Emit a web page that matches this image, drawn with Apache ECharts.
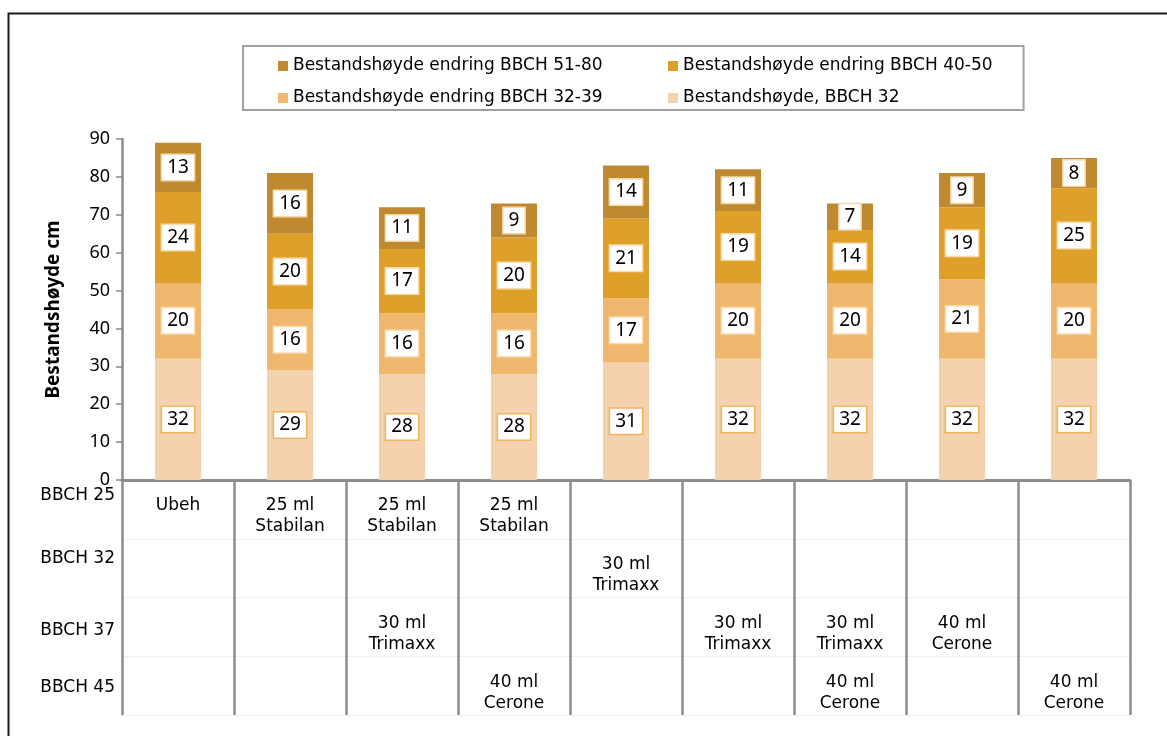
<!DOCTYPE html>
<html>
<head>
<meta charset="utf-8">
<script src="https://cdn.jsdelivr.net/npm/echarts@6/dist/echarts.min.js"></script>
<style>
  html, body { margin: 0; padding: 0; background: #fff; }
  #chart { width: 1167px; height: 736px; }
</style>
</head>
<body>
<div id="chart"></div>
<script>
// behandlinger (ledd)
const categories = ['1', '2', '3', '4', '5', '6', '7', '8', '9']
// bestandshøyde, cm
const base = [32, 29, 28, 28, 31, 32, 32, 32, 32]
const change3239 = [20, 16, 16, 16, 17, 20, 20, 21, 20]
const change4050 = [24, 20, 17, 20, 21, 19, 14, 19, 25]
const change5180 = [13, 16, 11, 9, 14, 11, 7, 9, 8]
const yTicks = [0, 90, 10]
// tabell under diagrammet
const stages = ['BBCH 25', 'BBCH 32', 'BBCH 37', 'BBCH 45']
const treatments = [
  ['Ubeh', '', '', ''],
  ['25 ml\nStabilan', '', '', ''],
  ['25 ml\nStabilan', '', '30 ml\nTrimaxx', ''],
  ['25 ml\nStabilan', '', '', '40 ml\nCerone'],
  ['', '30 ml\nTrimaxx', '', ''],
  ['', '', '30 ml\nTrimaxx', ''],
  ['', '', '30 ml\nTrimaxx', '40 ml\nCerone'],
  ['', '', '40 ml\nCerone', ''],
  ['', '', '', '40 ml\nCerone']
]
const names = [
  'Bestandshøyde endring BBCH 51-80',
  'Bestandshøyde endring BBCH 40-50',
  'Bestandshøyde endring BBCH 32-39',
  'Bestandshøyde, BBCH 32'
]

const chart = echarts.init(document.getElementById('chart'))
const gray = '#8c8c8c'
const numFont = 'Noto Sans'
const txtFont = 'DejaVu Sans'

const tableCells = []
treatments.forEach((col, c) => {
  col.forEach((txt, r) => {
    if (txt) tableCells.push([c, r, txt])
  })
})

function barSeries (name, data, color, border) {
  return {
    name: name,
    type: 'bar',
    stack: 'total',
    barWidth: 46,
    xAxisIndex: 0,
    yAxisIndex: 0,
    itemStyle: { color: color },
    label: {
      show: true,
      position: 'inside',
      color: '#000',
      fontFamily: numFont,
      fontSize: 19,
      backgroundColor: '#fff',
      borderColor: border,
      borderWidth: 1.5,
      padding: [4, 5, 2, 5]
    },
    data: data
  }
}

const labelShift = [[0, 0, 28, 0], [0, 0, 20, 0], [8, 0, 0, 0], [4, 0, 0, 0]]
const rich = {}
labelShift.forEach((p, i) => {
  rich['s' + i] = { padding: p, fontFamily: txtFont, fontSize: 17, color: '#000' }
})

const options = {
  animation: false,
  backgroundColor: '#fff',
  graphic: [{
    type: 'rect',
    left: 6,
    top: 11,
    shape: { width: 1200, height: 800 },
    style: { fill: 'none', stroke: '#1a1a1a', lineWidth: 2 },
    silent: true
  }],
  legend: {
    left: 243,
    top: 46,
    width: 740,
    padding: [11, 31, 3, 35],
    borderColor: '#a0a0a0',
    borderWidth: 2,
    itemGap: 14,
    itemWidth: 10,
    itemHeight: 10,
    icon: 'rect',
    textStyle: { fontFamily: txtFont, fontSize: 17, color: '#000', lineHeight: 18 },
    data: [
      { name: names[0], textStyle: { width: 361 } },
      { name: names[1] },
      { name: names[2], textStyle: { width: 361 } },
      { name: names[3] }
    ]
  },
  grid: [
    { left: 122, right: 37, top: 139, bottom: 256 },
    { left: 122, right: 37, top: 480, bottom: 21 }
  ],
  xAxis: [{
    type: 'category',
    gridIndex: 0,
    data: categories,
    axisLine: { lineStyle: { color: gray, width: 3 } },
    axisTick: { show: false },
    axisLabel: { show: false }
  }, {
    type: 'category',
    gridIndex: 1,
    data: categories,
    axisLine: { show: false },
    axisTick: { show: false },
    axisLabel: { show: false },
    splitLine: { show: true, lineStyle: { color: gray, width: 2.5 } }
  }],
  yAxis: [{
    type: 'value',
    gridIndex: 0,
    min: yTicks[0],
    max: yTicks[1],
    interval: yTicks[2],
    name: 'Bestandshøyde cm',
    nameLocation: 'middle',
    nameGap: 59,
    nameTextStyle: { fontFamily: numFont, fontSize: 19, fontWeight: 'bold', color: '#000' },
    axisLine: { show: true, lineStyle: { color: gray, width: 2.5 } },
    axisTick: { show: true, length: 6, lineStyle: { color: gray, width: 1.5 } },
    axisLabel: { fontFamily: numFont, fontSize: 18, color: '#000', margin: 12 },
    splitLine: { show: false }
  }, {
    type: 'category',
    gridIndex: 1,
    inverse: true,
    data: stages,
    axisLine: { show: false },
    axisTick: { show: false },
    axisLabel: {
      margin: 7,
      fontFamily: txtFont,
      fontSize: 17,
      color: '#000',
      formatter: (v, i) => '{s' + i + '|' + v + '}',
      rich: rich
    },
    splitLine: { show: true, lineStyle: { color: '#efefef', width: 1 } }
  }],
  series: [
    barSeries(names[3], base, '#f3d2ad', '#efb45c'),
    barSeries(names[2], change3239, '#efb86e', '#f6dcae'),
    barSeries(names[1], change4050, '#dfa02a', '#f5dcae'),
    barSeries(names[0], change5180, '#bf8930', '#f3d9aa'),
    {
      type: 'scatter',
      xAxisIndex: 1,
      yAxisIndex: 1,
      symbolSize: 1,
      itemStyle: { color: 'rgba(0,0,0,0)' },
      silent: true,
      label: {
        show: true,
        position: 'inside',
        verticalAlign: 'top',
        offset: [0, -14],
        fontFamily: txtFont,
        fontSize: 17,
        lineHeight: 21,
        color: '#000',
        opacity: 1,
        formatter: p => p.data[2]
      },
      data: tableCells
    }
  ]
}
chart.setOption(options)
</script>
</body>
</html>
